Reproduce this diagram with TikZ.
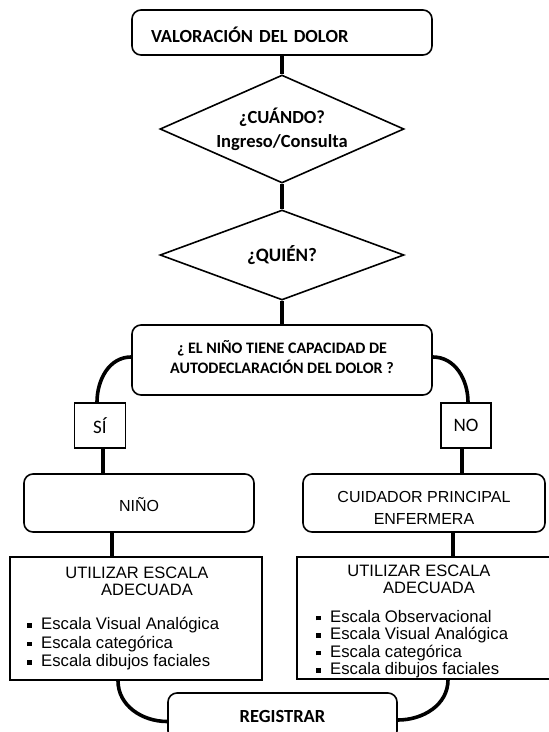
\documentclass[tikz,border=0pt]{standalone}
\usepackage{fontspec}
\setmainfont{Carlito}
\newfontfamily\arial{Liberation Sans}
\usetikzlibrary{shapes.geometric}
\newcommand{\bul}{\makebox[14pt][l]{\rule[2pt]{4.5pt}{4.5pt}}}
\begin{document}
\begin{tikzpicture}[x=1pt,y=-1pt,
	caja/.style={draw,line width=1.6pt,rounded corners=9pt,inner sep=0pt},
	cuadro/.style={draw,line width=1.6pt,inner sep=0pt},
	rombo/.style={draw,diamond,line width=1.6pt,inner sep=0pt,minimum width=244pt},
	linea/.style={line width=3.6pt}]
	\useasboundingbox (0,0) rectangle (549,732);
	\clip (0,0) rectangle (549,732);
	\node[caja,minimum width=300pt,minimum height=45pt,text width=262pt,align=left,text height=21pt,font=\bfseries\fontsize{18.5}{20}\selectfont] (valor) at (282,32.5) {VALORACIÓN DEL DOLOR};
	\node[rombo,aspect=2.26,minimum height=108pt,align=center,font=\bfseries\fontsize{18.5}{24}\selectfont] (cuando) at (282,129) {¿CUÁNDO?\\Ingreso/Consulta};
	\node[rombo,aspect=2.7,minimum height=90pt,font=\bfseries\fontsize{19}{20}\selectfont] (quien) at (282,255) {¿QUIÉN?};
	\node[caja,minimum width=300pt,minimum height=70pt,align=center,text depth=6pt,font=\bfseries\fontsize{16}{20}\selectfont] (capac) at (282,360) {¿ EL NIÑO TIENE CAPACIDAD DE\\AUTODECLARACIÓN DEL DOLOR ?};
	\node[cuadro,minimum width=51pt,minimum height=45pt,font=\fontsize{19}{20}\selectfont] (si) at (100,425.5) {SÍ\hspace{12pt}};
	\node[cuadro,minimum width=50pt,minimum height=45pt,font=\fontsize{19}{20}\selectfont] (no) at (466,425.5) {NO};
	\node[caja,minimum width=230pt,minimum height=58pt,font=\arial\fontsize{16}{22}\selectfont] (nino) at (139,503) {\rule{0pt}{17.5pt}NIÑO};
	\node[caja,minimum width=242pt,minimum height=58pt,align=center,font=\arial\fontsize{16}{22}\selectfont] (cuid) at (424,503) {\rule{0pt}{20pt}CUIDADOR PRINCIPAL\\ENFERMERA};
	\node[cuadro,minimum width=252pt,minimum height=123pt] (escala1) at (136,618.5) {};
	\node[cuadro,minimum width=260pt,minimum height=122pt] (escala2) at (427,618) {};
	\node[anchor=north,align=center,font=\arial\fontsize{16.5}{17}\selectfont] (titulo1) at (137,563) {UTILIZAR ESCALA\\\hspace*{20pt}ADECUADA};
	\node[anchor=north,align=center,font=\arial\fontsize{16.5}{17}\selectfont] (titulo2) at (419,561) {UTILIZAR ESCALA\\\hspace*{20pt}ADECUADA};
	\node[anchor=north west,align=left,inner sep=0pt,font=\arial\fontsize{16.7}{18.5}\selectfont] (lista1) at (27,617) {\bul Escala Visual Analógica\\\bul Escala categórica\\\bul Escala dibujos faciales};
	\node[anchor=north west,align=left,inner sep=0pt,font=\arial\fontsize{16.7}{17.5}\selectfont] (lista2) at (316,610) {\bul Escala Observacional\\\bul Escala Visual Analógica\\\bul Escala categórica\\\bul Escala dibujos faciales};
	\node[caja,minimum width=229pt,minimum height=47pt,font=\bfseries\fontsize{18.5}{20}\selectfont] (reg) at (282.5,716.5) {REGISTRAR};
	\draw[linea] (valor) -- (cuando);
	\draw[linea] (cuando) -- (quien);
	\draw[linea] (quien) -- (capac);
	\draw[linea] ([yshift=3pt]capac.west) to[out=180,in=90] ([xshift=-3pt]si.north);
	\draw[linea] ([yshift=3pt]capac.east) to[out=0,in=90] ([xshift=2pt]no.north);
	\draw[linea] ([xshift=3pt]si.south) -- ([xshift=3pt]si.south |- nino.north);
	\draw[linea] ([xshift=-4pt]no.south) -- ([xshift=-4pt]no.south |- cuid.north);
	\draw[linea] ([xshift=-27pt]nino.south) -- ([xshift=-27pt]nino.south |- escala1.north);
	\draw[linea] ([xshift=29pt]cuid.south) -- ([xshift=29pt]cuid.south |- escala2.north);
	\draw[linea] ([xshift=-18pt]escala1.south) to[out=-90,in=180] ([yshift=-5pt]reg.west);
	\draw[linea] ([xshift=21pt]escala2.south) to[out=-90,in=0] ([yshift=-3.5pt]reg.east);
\end{tikzpicture}
\end{document}
